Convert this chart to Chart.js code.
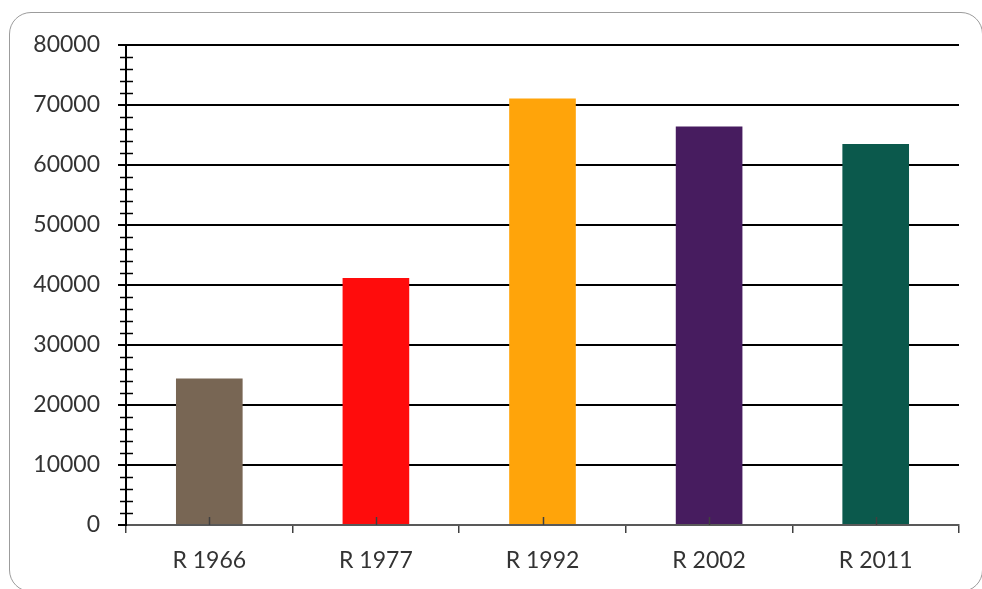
<!DOCTYPE html>
<html>
<head>
<meta charset="utf-8">
<script src="https://cdn.jsdelivr.net/npm/chart.js@4/dist/chart.umd.min.js"></script>
<style>
  html, body { margin: 0; padding: 0; background: #fff; }
  #wrap { position: relative; width: 982px; height: 589px; overflow: hidden; }
  #frame { position: absolute; left: 9px; top: 12px; width: 974px; height: 580px;
           border: 1.5px solid #9c9c9c; border-radius: 22px; box-sizing: border-box; }
  canvas { position: absolute; left: 0; top: 0; }
</style>
</head>
<body>
<div id="wrap">
  <div id="frame"></div>
  <canvas id="c" width="982" height="589"></canvas>
</div>
<script>
const categories = ['R 1966', 'R 1977', 'R 1992', 'R 2002', 'R 2011'];
const values = [24400, 41150, 71100, 66400, 63500];
const barColors = ['#786654', '#ff0c0c', '#ffa40a', '#471c5f', '#0b594c'];
const yMin = 0;
const yMax = 80000;
const majorStep = 10000;
const minorStep = 2000;

const extraTicks = {
  id: 'extraTicks',
  afterDatasetsDraw(chart) {
    const { ctx, scales: { x, y } } = chart;
    ctx.save();
    ctx.strokeStyle = '#000';
    ctx.lineWidth = 1.5;
    for (let v = yMin; v <= yMax; v += minorStep) {
      if (v % majorStep === 0) continue;
      const py = Math.round(y.getPixelForValue(v)) + 0.5;
      ctx.beginPath();
      ctx.moveTo(y.right - 6, py);
      ctx.lineTo(y.right + 7, py);
      ctx.stroke();
    }
    ctx.strokeStyle = '#404040';
    categories.forEach((c, i) => {
      const px = Math.round(x.getPixelForValue(i)) + 0.5;
      ctx.beginPath();
      ctx.moveTo(px, x.top);
      ctx.lineTo(px, x.top - 8);
      ctx.stroke();
    });
    ctx.restore();
  }
};

new Chart(document.getElementById('c'), {
  type: 'bar',
  data: {
    labels: categories,
    datasets: [{
      data: values,
      backgroundColor: barColors,
      borderWidth: 0,
      categoryPercentage: 0.8,
      barPercentage: 0.5
    }]
  },
  options: {
    responsive: false,
    animation: false,
    layout: { padding: { left: 0, right: 23, top: 45, bottom: 0 } },
    plugins: { legend: { display: false }, tooltip: { enabled: false } },
    scales: {
      x: {
        afterFit(scale) { scale.height = 64; },
        grid: { offset: true, drawOnChartArea: false, drawTicks: true, tickLength: 8, color: '#404040', lineWidth: 1.5 },
        border: { color: '#595959', width: 2 },
        ticks: { color: '#333', padding: 14, font: { family: 'Lato', size: 23 } }
      },
      y: {
        min: yMin,
        max: yMax,
        afterFit(scale) { scale.width = 126; },
        grid: { color: '#000', lineWidth: 2, tickLength: 8 },
        border: { color: '#000', width: 2 },
        ticks: { stepSize: majorStep, color: '#333', padding: 18, font: { family: 'Lato', size: 23 },
                 callback: (v) => String(v) }
      }
    }
  },
  plugins: [extraTicks]
});
</script>
</body>
</html>
